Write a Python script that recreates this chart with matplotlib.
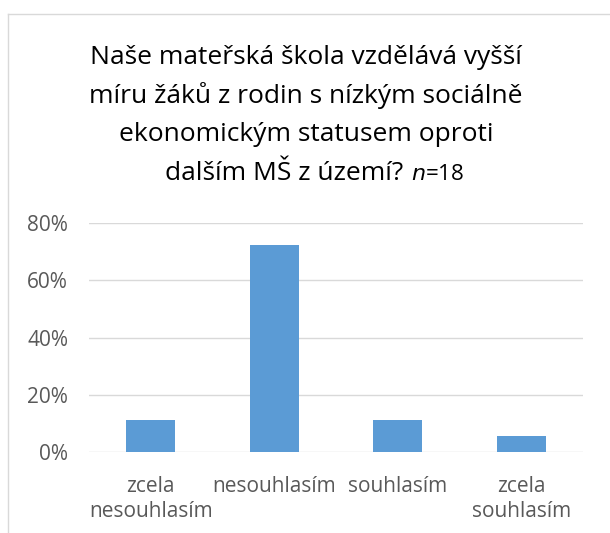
import matplotlib.pyplot as plt
from matplotlib.lines import Line2D

# response shares, n=18
categories = ['zcela\nnesouhlasím', 'nesouhlasím', 'souhlasím', 'zcela\nsouhlasím']
shares = [2 / 18, 13 / 18, 2 / 18, 1 / 18]
yticks = [0, 0.2, 0.4, 0.6, 0.8]
ytick_labels = ['0%', '20%', '40%', '60%', '80%']

plt.rcParams['font.family'] = ['Open Sans', 'DejaVu Sans']

fig = plt.figure(figsize=(6.1, 5.33), dpi=100)
W, H = 610, 533
ax = fig.add_axes([89 / W, 1 - 452 / H, (583 - 89) / W, (452 - 223) / H])

x = range(len(categories))
ax.bar(x, shares, width=0.4, color='#5b9bd5', zorder=3)

ax.set_xlim(-0.5, len(categories) - 0.5)
ax.set_ylim(0, 0.8)
ax.set_yticks(yticks)
ax.set_yticklabels(ytick_labels, fontsize=15, color='#595959')
ax.set_xticks(list(x))
ax.set_xticklabels(categories, fontsize=15, color='#595959', linespacing=1.3)
ax.tick_params(axis='y', length=0, pad=15)
ax.tick_params(axis='x', length=0, pad=17)
ax.grid(axis='y', color='#d9d9d9', linewidth=1, zorder=0)
for s in ax.spines.values():
    s.set_visible(False)

# title
title_lines = ['Naše mateřská škola vzdělává vyšší',
               'míru žáků z rodin s nízkým sociálně',
               'ekonomickým statusem oproti']
for i, line in enumerate(title_lines):
    fig.text(306 / W, 1 - (64 + 38.7 * i) / H, line, ha='center', va='baseline',
             fontsize=19, color='#000000')
fig.text(403 / W, 1 - 180 / H, 'dalším MŠ z území?', ha='right', va='baseline',
         fontsize=19, color='#000000')
fig.text(411 / W, 1 - 180 / H, '$\\it{n}$=18', ha='left', va='baseline',
         fontsize=16, color='#000000')

# chart border (top and left visible)
fig.add_artist(Line2D([8 / W, 1], [1 - 14 / H, 1 - 14 / H], color='#d9d9d9', lw=1))
fig.add_artist(Line2D([8 / W, 8 / W], [0, 1 - 14 / H], color='#d9d9d9', lw=1))

fig.savefig('out.png', dpi=100)
